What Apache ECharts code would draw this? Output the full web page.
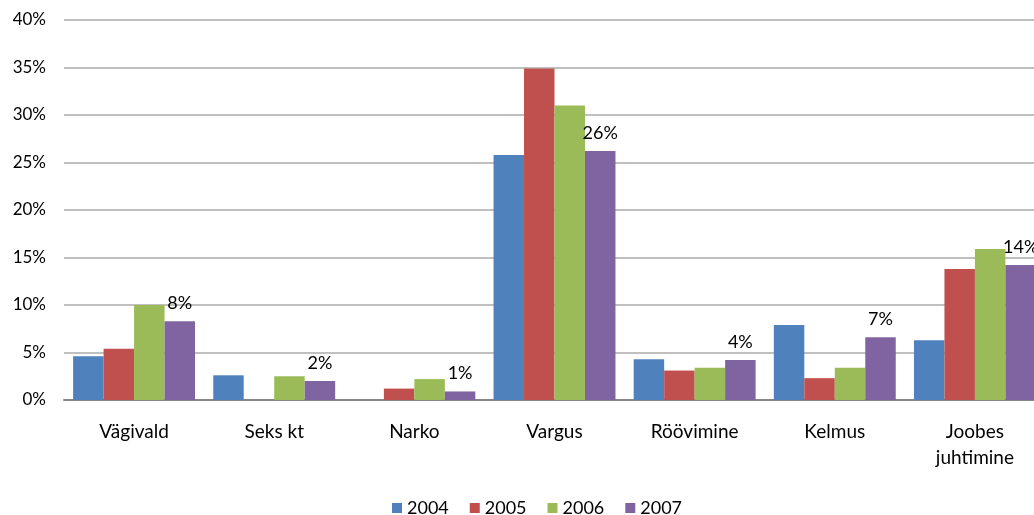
<!DOCTYPE html>
<html>
<head>
<meta charset="utf-8">
<script src="https://cdn.jsdelivr.net/npm/echarts@6/dist/echarts.min.js"></script>
<style>
html,body{margin:0;padding:0;background:#fff;overflow:hidden;width:1034px;height:515px;}
#chart{width:1045px;height:515px;}
</style>
</head>
<body>
<div id="chart"></div>
<script>
const categories = ['Vägivald', 'Seks kt', 'Narko', 'Vargus', 'Röövimine', 'Kelmus', 'Joobes\njuhtimine'];
const seriesNames = ['2004', '2005', '2006', '2007'];
const v2004 = [4.6, 2.6, 0, 25.8, 4.3, 7.9, 6.3];
const v2005 = [5.4, 0, 1.2, 34.9, 3.1, 2.3, 13.8];
const v2006 = [10.0, 2.5, 2.2, 31.0, 3.4, 3.4, 15.9];
const v2007 = [8.3, 2.0, 0.9, 26.2, 4.2, 6.6, 14.2];
const yTicks = { min: 0, max: 40, interval: 5 };
const colors = ['#4F81BD', '#C0504D', '#9BBB59', '#8064A2'];

const font = 'Lato, "Open Sans", sans-serif';
const allValues = [v2004, v2005, v2006, v2007];
const chart = echarts.init(document.getElementById('chart'), null, { renderer: 'canvas' });
chart.setOption({
  animation: false,
  color: colors,
  grid: { left: 64, right: 0, top: 20, bottom: 115 },
  legend: {
    data: seriesNames,
    left: 392, top: 499, padding: 0,
    itemWidth: 10, itemHeight: 10, itemGap: 21,
    icon: 'rect',
    textStyle: { fontFamily: font, fontSize: 18, color: '#000' }
  },
  xAxis: {
    type: 'category',
    data: categories,
    axisLine: { lineStyle: { color: '#868686', width: 2 } },
    axisTick: { show: false },
    axisLabel: { color: '#000', fontFamily: font, fontSize: 19, margin: 19, lineHeight: 26, interval: 0 }
  },
  yAxis: {
    type: 'value',
    min: yTicks.min, max: yTicks.max, interval: yTicks.interval,
    axisLine: { show: false },
    axisTick: { show: false },
    splitLine: { lineStyle: { color: '#C0C0C0', width: 2 } },
    axisLabel: { color: '#000', fontFamily: font, fontSize: 17, margin: 18, formatter: '{value}%' }
  },
  series: seriesNames.map((name, i) => ({
    name: name,
    type: 'bar',
    data: allValues[i],
    barGap: '0%',
    barCategoryGap: '13%',
    label: i === 3 ? {
      show: true, position: 'top', distance: 9,
      color: '#000', fontFamily: font, fontSize: 18,
      formatter: p => Math.round(p.value) + '%'
    } : { show: false }
  }))
});
</script>
</body>
</html>
